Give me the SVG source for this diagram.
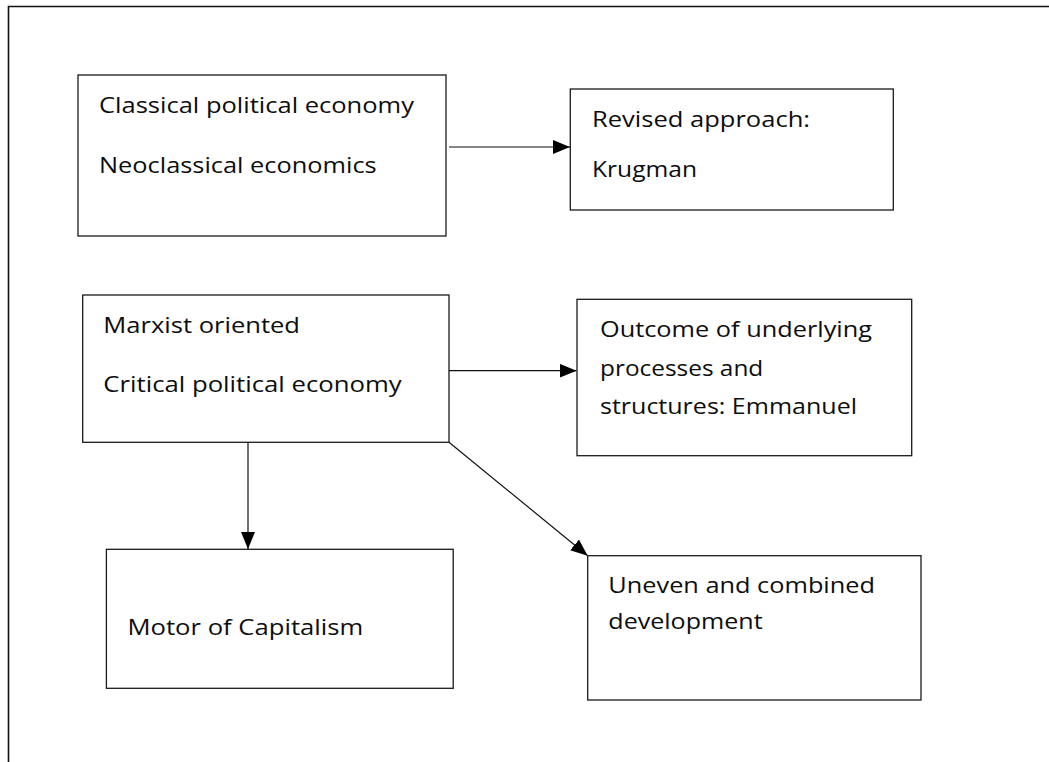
<svg xmlns="http://www.w3.org/2000/svg" width="1049" height="762" viewBox="0 0 1049 762">
  <style>
    .box { fill: #ffffff; stroke: #1a1a1a; stroke-width: 1.3; }
    .lbl { font-family: "Open Sans", "Liberation Sans", sans-serif; font-size: 22px; fill: #0d0d0d; }
    .link { fill: none; stroke: #111111; stroke-width: 1.2; marker-end: url(#head); }
    .frame { fill: none; stroke: #111111; stroke-width: 1.6; }
  </style>
  <defs>
    <marker id="head" markerUnits="userSpaceOnUse" markerWidth="17" markerHeight="15" refX="17" refY="7" orient="auto">
      <path d="M0,0 L17,7 L0,14 Z" fill="#000000"/>
    </marker>
  </defs>

  <rect width="1049" height="762" fill="#ffffff"/>
  <!-- page frame: top and left edges only -->
  <path class="frame" d="M8.5,762 V6.5 H1049"/>

  <g id="connectors">
    <line class="link" x1="449" y1="147" x2="570" y2="147"/>
    <line class="link" x1="449" y1="370.7" x2="576.5" y2="370.7"/>
    <line class="link" x1="248" y1="442.3" x2="248" y2="549"/>
    <line class="link" x1="449" y1="442.3" x2="587.7" y2="555.7"/>
  </g>

  <g id="classical">
    <rect class="box" x="78" y="75" width="368" height="161"/>
    <text class="lbl" x="99" y="112.5" textLength="315" lengthAdjust="spacingAndGlyphs">Classical political economy</text>
    <text class="lbl" x="99" y="172.5" textLength="277.7" lengthAdjust="spacingAndGlyphs">Neoclassical economics</text>
  </g>

  <g id="revised">
    <rect class="box" x="570.3" y="89" width="323" height="121"/>
    <text class="lbl" x="592" y="126.7" textLength="218" lengthAdjust="spacingAndGlyphs">Revised approach:</text>
    <text class="lbl" x="592" y="176.7" textLength="105" lengthAdjust="spacingAndGlyphs">Krugman</text>
  </g>

  <g id="marxist">
    <rect class="box" x="82.7" y="295" width="366.3" height="147.3"/>
    <text class="lbl" x="103.3" y="333.3" textLength="196.7" lengthAdjust="spacingAndGlyphs">Marxist oriented</text>
    <text class="lbl" x="103.3" y="391.7" textLength="298.4" lengthAdjust="spacingAndGlyphs">Critical political economy</text>
  </g>

  <g id="outcome">
    <rect class="box" x="577" y="299.3" width="334.7" height="156.4"/>
    <text class="lbl" x="600" y="336.7" textLength="272" lengthAdjust="spacingAndGlyphs">Outcome of underlying</text>
    <text class="lbl" x="600" y="376" textLength="163.3" lengthAdjust="spacingAndGlyphs">processes and</text>
    <text class="lbl" x="600" y="414" textLength="257" lengthAdjust="spacingAndGlyphs">structures: Emmanuel</text>
  </g>

  <g id="motor">
    <rect class="box" x="106.4" y="549.3" width="346.8" height="139"/>
    <text class="lbl" x="127.5" y="635" textLength="235.7" lengthAdjust="spacingAndGlyphs">Motor of Capitalism</text>
  </g>

  <g id="uneven">
    <rect class="box" x="587.7" y="555.7" width="333.3" height="144.3"/>
    <text class="lbl" x="608.3" y="593.3" textLength="266.7" lengthAdjust="spacingAndGlyphs">Uneven and combined</text>
    <text class="lbl" x="608.3" y="629.3" textLength="154.3" lengthAdjust="spacingAndGlyphs">development</text>
  </g>
</svg>
